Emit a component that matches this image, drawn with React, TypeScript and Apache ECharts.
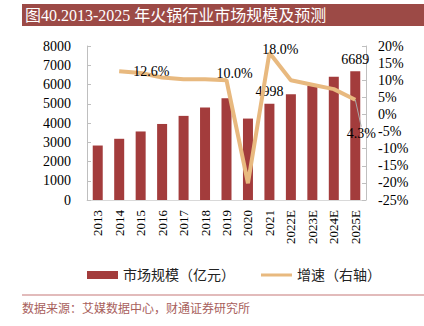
import React, { useEffect, useRef } from "react";
import * as echarts from "echarts";

const years = ["2013", "2014", "2015", "2016", "2017", "2018", "2019", "2020", "2021", "2022E", "2023E", "2024E", "2025E"];
const marketSize = [2830, 3180, 3560, 3950, 4370, 4810, 5290, 4230, 4998, 5500, 5950, 6400, 6689];
const growth: (number | null)[] = [null, 12.6, 12.1, 10.8, 10.3, 10.3, 10.0, -20.1, 18.0, 10.0, 8.7, 7.4, 4.3];
const leftTicks = { min: 0, max: 8000, interval: 1000 };
const rightTicks = { min: -25, max: 20, interval: 5 };
const barLabelIdx = [8, 12];
const lineLabelIdx = [1, 6, 8, 12];

const FONT = "'Liberation Serif', 'Noto Sans CJK SC', serif";
const LINE_ICON = "path://M0,0L31,0L31,0.01ZM0,2.5L31,2.5L31,5.5L0,5.5ZM0,8L31,8L31,8.01Z";

export default function App() {
  const ref = useRef<HTMLDivElement>(null);
  useEffect(() => {
    document.body.style.margin = "0";
    if (!ref.current) return;
    const chart = echarts.init(ref.current, null, { renderer: "svg" });

    const barData = marketSize.map((v, i) =>
      barLabelIdx.includes(i)
        ? { value: v, label: { show: true, position: "top", fontSize: 14, fontFamily: FONT, color: "#000" } }
        : v
    );
    const lineLabelPos: Record<number, string> = { 1: "right", 6: "top", 8: "top", 12: "top" };
    const lineLabelShift: Record<number, { dx: number; dy: number }> = {
      1: { dx: 9, dy: 0 },
      6: { dx: 8, dy: 5 },
      8: { dx: 11, dy: 9 },
      12: { dx: 6, dy: 46 },
    };
    const lineData = growth.map((v, i) =>
      lineLabelIdx.includes(i) && v !== null
        ? {
            value: v,
            symbol: "circle",
            symbolSize: 0.1,
            label: {
              show: true,
              position: lineLabelPos[i],
              fontSize: 14,
              fontFamily: FONT,
              color: "#000",
              formatter: (p: any) => Number(p.value).toFixed(1) + "%",
            },
            labelLine: i === 12 ? { show: true, lineStyle: { color: "#aaaaaa", width: 1 } } : { show: false },
          }
        : v
    );

    chart.setOption({
      animation: false,
      textStyle: { fontFamily: FONT },
      grid: { left: 87, right: 58, top: 46, bottom: 126 },
      legend: {
        left: 82,
        top: 263,
        itemGap: 26,
        itemWidth: 31,
        itemHeight: 8,
        textStyle: { fontSize: 14, fontFamily: FONT, color: "#222" },
        data: [
          { name: "市场规模（亿元）", icon: "rect" },
          { name: "增速（右轴）", icon: LINE_ICON, itemStyle: { color: "#e8b97f" } },
        ],
      },
      xAxis: {
        type: "category",
        data: years,
        axisLine: { lineStyle: { color: "#d9d9d9" } },
        axisTick: { show: false },
        axisLabel: { rotate: 90, fontSize: 13, margin: 10, color: "#000", fontFamily: FONT },
      },
      yAxis: [
        {
          type: "value",
          ...leftTicks,
          position: "left",
          axisLine: { show: true, lineStyle: { color: "#bfbfbf" } },
          axisTick: { show: true, inside: true, length: 4, lineStyle: { color: "#bfbfbf" } },
          splitLine: { show: false },
          axisLabel: { fontSize: 14, margin: 16, color: "#000", fontFamily: FONT, formatter: (v: number) => String(v) },
        },
        {
          type: "value",
          ...rightTicks,
          position: "right",
          axisLine: { show: true, lineStyle: { color: "#bfbfbf" } },
          axisTick: { show: true, inside: true, length: 4, lineStyle: { color: "#bfbfbf" } },
          splitLine: { show: false },
          axisLabel: { fontSize: 14, margin: 12, color: "#000", fontFamily: FONT, formatter: "{value}%" },
        },
      ],
      series: [
        {
          name: "市场规模（亿元）",
          type: "bar",
          data: barData,
          barWidth: 10,
          itemStyle: { color: "#a33c3c" },
        },
        {
          name: "增速（右轴）",
          type: "line",
          yAxisIndex: 1,
          data: lineData,
          symbol: "none",
          lineStyle: { color: "#e8b97f", width: 4 },
          itemStyle: { color: "#e8b97f" },
          z: 3,
          labelLayout: (p: any) => lineLabelShift[p.dataIndex] || {},
        },
      ],
      graphic: [
        { type: "rect", shape: { x: 22, y: 4, width: 402, height: 22 }, style: { fill: "#9c4a46" } },
        {
          type: "text",
          x: 25,
          y: 15,
          style: {
            text: "图40.2013-2025 年火锅行业市场规模及预测",
            fill: "#fff",
            font: "16px " + FONT,
            verticalAlign: "middle",
          },
        },
        { type: "line", shape: { x1: 22, y1: 295, x2: 424, y2: 295 }, style: { stroke: "#d8a4a4", lineWidth: 1.5 } },
        {
          type: "text",
          x: 22,
          y: 309,
          style: {
            text: "数据来源：艾媒数据中心，财通证券研究所",
            fill: "#a8605c",
            font: "12px " + FONT,
            verticalAlign: "middle",
          },
        },
      ],
    });
    return () => chart.dispose();
  }, []);
  return <div ref={ref} style={{ width: 424, height: 326 }} />;
}
